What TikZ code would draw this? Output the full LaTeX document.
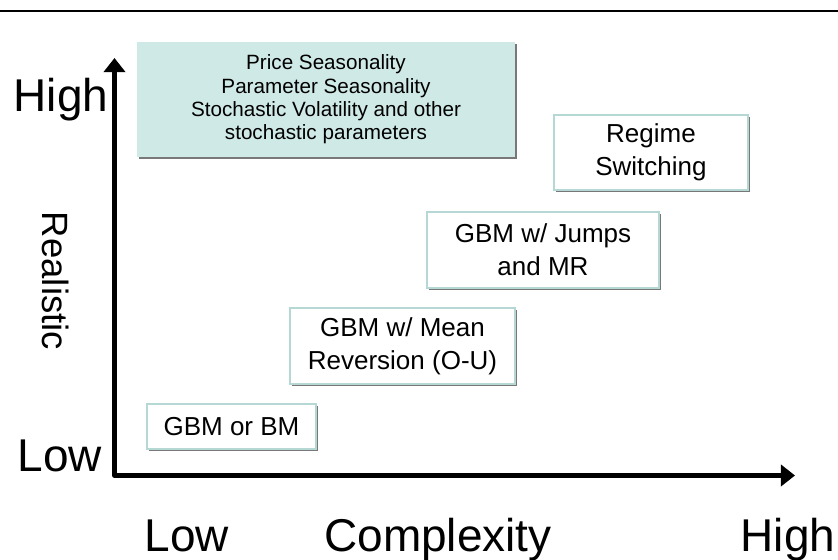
\documentclass[tikz,border=0pt]{standalone}
\usepackage{fontspec}
\setmainfont{Liberation Sans}
\usepackage{xcolor}
\usepackage{tikz}
\usetikzlibrary{arrows.meta, shadows, positioning, calc}
\definecolor{tealfill}{RGB}{207,233,230}
\definecolor{tealedge}{RGB}{182,216,212}
\definecolor{shadowgray}{RGB}{120,120,120}

\begin{document}
\begin{tikzpicture}[x=0.25cm, y=0.25cm,
    axislabel/.style={font=\fontsize{32.7pt}{39pt}\selectfont},
    sidelabel/.style={font=\fontsize{26pt}{31pt}\selectfont},
    axis/.style={line width=3.2pt, line join=round,
      {Triangle[length=10pt,width=15pt]}-{Triangle[length=10pt,width=15pt]}},
    modelbox/.style={draw=tealedge, line width=1.5pt, fill=white, align=center,
      inner sep=2pt, font=\fontsize{18.5pt}{23.5pt}\selectfont,
      drop shadow={shadow xshift=1.2pt, shadow yshift=-1.2pt, fill=shadowgray, opacity=1}},
    seasonbox/.style={fill=tealfill, align=center, inner sep=2pt,
      font=\fontsize{14.7pt}{16.6pt}\selectfont,
      drop shadow={shadow xshift=1.2pt, shadow yshift=-1.2pt, fill=shadowgray, opacity=1}}]
    \useasboundingbox (0,0) rectangle (83.8,56);

    \coordinate (O) at (11.45,8.45);
    \coordinate (ytop) at (11.45,50.2);
    \coordinate (xend) at (79.5,8.45);

    \draw [line width=2.1pt] (0,54.9) -- (83.8,54.9);
    \draw [axis] (ytop) |- (xend);

    \node [axislabel, anchor=base] (yhigh) at (6.1,44.8) {High};
    \node [axislabel, anchor=base] (ylow) at (6.0,8.8) {Low};
    \node [sidelabel, rotate=-90] (realistic) at (5.6,27.9) {Realistic};
    \node [axislabel, anchor=base] (xlow) at (18.7,0.8) {Low};
    \node [axislabel, anchor=base] (complexity) at (43.8,0.8) {Complexity};
    \node [axislabel, anchor=base] (xhigh) at (78.8,0.8) {High};

    \node [modelbox, minimum width=4.225cm, minimum height=1.125cm] (gbm)
      at (23.15,13.35) {GBM or BM};
    \node [modelbox, minimum width=5.625cm, minimum height=1.9cm] (meanrev)
      at (40.25,21.4) {GBM w/ Mean\\Reversion (O-U)};
    \node [modelbox, minimum width=5.8cm, minimum height=1.9cm] (jumps)
      at (54.3,31.0) {GBM w/ Jumps\\and MR};
    \node [modelbox, minimum width=4.85cm, minimum height=1.875cm] (regime)
      at (65.1,40.75) {Regime\\Switching};
    \node [seasonbox, minimum width=9.45cm, minimum height=2.875cm] (season)
      at (32.6,46.05) {Price Seasonality\\Parameter Seasonality\\
      Stochastic Volatility and other\\stochastic parameters};
  \end{tikzpicture}
\end{document}
